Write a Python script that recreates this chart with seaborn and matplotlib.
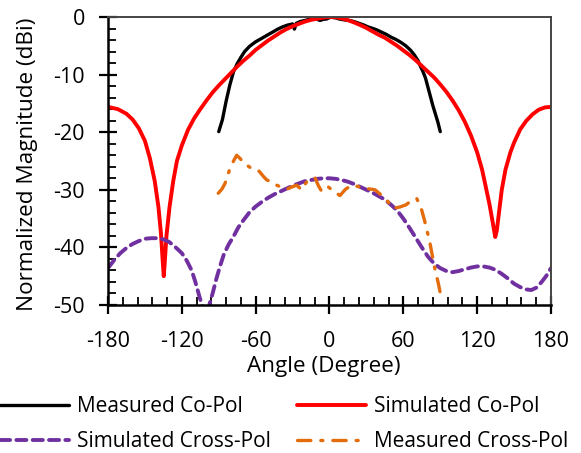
import matplotlib
matplotlib.use("Agg")
import matplotlib.pyplot as plt
import seaborn as sns
import pandas as pd
from matplotlib.ticker import MultipleLocator

# ---------------- data ----------------
sim_co_angle = [-180, -172, -165, -160, -155, -150, -146, -142, -139, -137, -135.5, -134.7,
                -134, -132.5, -130, -127, -124, -120, -115, -110, -105, -100, -95, -90,
                -85, -80, -75, -70, -65, -60, -55, -50, -45, -40, -35, -30, -25, -20,
                -15, -10, -5, 0, 5, 10, 15, 20, 25, 30, 35, 40, 45, 50, 55, 60, 65, 70,
                75, 80, 85, 90, 95, 100, 105, 110, 115, 120, 124, 127, 130, 132.5, 134.7,
                136, 138, 140, 143, 147, 150, 155, 160, 165, 170, 175, 180]
sim_co_db = [-15.6, -16.0, -16.8, -17.8, -19.3, -21.5, -24.5, -28.5, -33.0, -37.5, -42.5, -45.0,
             -43.0, -38.0, -33.0, -28.5, -25.0, -22.3, -19.6, -17.6, -16.0, -14.5, -13.1, -11.9,
             -10.8, -9.7, -8.6, -7.6, -6.7, -5.7, -4.9, -4.1, -3.4, -2.7, -2.1, -1.6, -1.2, -0.8,
             -0.5, -0.3, -0.1, 0.0, -0.05, -0.25, -0.55, -0.95, -1.4, -1.9, -2.5, -3.1, -3.6, -4.3,
             -5.0, -5.8, -6.6, -7.5, -8.5, -9.5, -10.5, -11.7, -13.0, -14.5, -16.2, -18.2, -20.6,
             -23.5, -26.5, -29.5, -32.5, -35.5, -38.2, -37.0, -33.5, -30.0, -26.5, -23.5, -21.8,
             -19.5, -18.0, -16.9, -16.1, -15.7, -15.6]

meas_co_angle = [-90, -87, -84, -81, -78, -75, -72, -69, -65, -60, -55, -51, -46, -42, -38, -34,
                 -30, -28.5, -27, -24, -20, -16, -13, -10, -7.7, -5, -2.3, 0, 2, 5, 8, 12, 16,
                 20, 24, 28, 31, 34, 38, 42, 46, 50, 54, 58, 62, 66, 69, 72, 74, 76, 78, 80, 82,
                 84, 86, 88, 90]
meas_co_db = [-19.9, -17.8, -14.6, -11.8, -9.5, -8.1, -7.0, -6.0, -5.1, -4.3, -3.7, -3.2, -2.6,
              -2.1, -1.7, -1.4, -1.2, -2.1, -1.1, -0.8, -0.6, -0.4, -0.3, -0.4, -0.6, -0.4, -0.35,
              -0.1, -0.05, -0.15, -0.35, -0.5, -0.6, -0.8, -1.1, -1.4, -1.7, -1.9, -2.2, -2.6,
              -3.0, -3.5, -3.9, -4.4, -5.0, -5.8, -6.6, -7.6, -8.6, -9.5, -10.6, -12.2, -13.8,
              -15.4, -16.8, -18.2, -19.9]

sim_x_angle = [-180, -175, -170, -165, -160, -155, -150, -145, -140, -135, -130, -125, -120,
               -116, -112, -109, -106, -103, -101, -99, -97, -95, -92, -89, -86, -82, -78, -74,
               -70, -65, -60, -55, -50, -45, -40, -35, -30, -25, -20, -15, -10, -5, 0, 5, 10,
               15, 20, 25, 30, 35, 40, 45, 50, 55, 60, 65, 70, 75, 80, 85, 90, 95, 100, 105,
               110, 115, 120, 125, 130, 135, 140, 145, 150, 155, 160, 164, 168, 172, 176, 180]
sim_x_db = [-43.6, -42.2, -41.0, -40.1, -39.4, -38.9, -38.5, -38.4, -38.4, -38.6, -39.1, -40.0,
            -41.0, -42.3, -44.0, -46.0, -48.3, -50.5, -52.0, -51.0, -49.5, -48.0, -45.5, -43.3,
            -41.3, -39.5, -38.1, -36.5, -35.3, -33.9, -32.9, -32.1, -31.4, -30.8, -30.3, -29.8,
            -29.3, -28.9, -28.5, -28.3, -28.1, -28.0, -28.0, -28.1, -28.3, -28.6, -29.0, -29.5,
            -30.0, -30.5, -31.1, -31.7, -32.6, -33.6, -35.0, -36.6, -38.3, -40.0, -41.6, -42.8,
            -43.6, -44.1, -44.3, -44.1, -43.8, -43.5, -43.3, -43.3, -43.5, -43.9, -44.6, -45.4,
            -46.3, -46.9, -47.3, -47.4, -47.0, -46.1, -45.0, -43.6]

meas_x_angle = [-90.4, -87.5, -84.9, -80.9, -78, -75.4, -72.5, -70.0, -64, -57.9, -54, -51.0,
                -47, -42.9, -38.5, -34.8, -30.5, -26.7, -22.6, -18.5, -15, -11.8, -9, -6.3,
                -3.5, -1.0, 3, 8.5, 13, 18, 24.8, 31, 37, 42, 46.5, 51.8, 57, 62.2, 67, 70.9,
                74.9, 78.2, 81.7, 85.2, 88.4, 89.8]
meas_x_db = [-30.6, -29.9, -28.9, -26.3, -25.0, -24.0, -24.6, -25.3, -26.2, -26.6, -27.6, -28.3,
             -28.6, -29.2, -29.6, -29.9, -29.5, -29.2, -30.0, -28.6, -28.2, -27.9, -29.3, -30.3,
             -29.9, -29.5, -30.2, -31.0, -29.9, -29.2, -29.5, -29.8, -30.0, -30.9, -31.8, -33.2,
             -33.0, -32.6, -31.8, -31.5, -33.5, -36.1, -39.3, -43.3, -46.2, -47.7]

x_ticks = [-180, -120, -60, 0, 60, 120, 180]
y_ticks = [0, -10, -20, -30, -40, -50]

# ---------------- style ----------------
sns.set_theme(style="white")
plt.rcParams["font.family"] = ["Open Sans", "DejaVu Sans"]
TICK_FS = 15.5
LABEL_FS = 16.2
LEG_FS = 15

fig = plt.figure(figsize=(5.81, 4.53), dpi=100)
ax = fig.add_axes([108 / 581, 1 - 305 / 453, 443 / 581, 288 / 453])

series = [
    ("Measured Co-Pol", meas_co_angle, meas_co_db, "#000000", "-", 2.4),
    ("Simulated Co-Pol", sim_co_angle, sim_co_db, "#FF0000", "-", 2.8),
    ("Simulated Cross-Pol", sim_x_angle, sim_x_db, "#7030A0", (0, (2.6, 1.6)), 2.8),
    ("Measured Cross-Pol", meas_x_angle, meas_x_db, "#E46C0A", (0, (4, 3, 0.6, 3)), 2.4),
]
for name, xs, ys, col, ls, lw in series:
    df = pd.DataFrame({"Angle": xs, "Mag": ys})
    sns.lineplot(data=df, x="Angle", y="Mag", ax=ax, color=col, linewidth=lw,
                 linestyle=ls, label=name, estimator=None, sort=False,
                 solid_capstyle="round", dash_capstyle="round")

ax.set_xlim(-180, 180)
ax.set_ylim(-50, 0)
ax.set_xticks(x_ticks)
ax.set_xticklabels([str(t) for t in x_ticks])
ax.set_yticks(y_ticks)
ax.set_yticklabels([str(t) for t in y_ticks])
ax.xaxis.set_minor_locator(MultipleLocator(12))
ax.yaxis.set_minor_locator(MultipleLocator(2))

ax.tick_params(axis="both", which="major", direction="inout", length=13, width=1.6,
               color="black", labelsize=TICK_FS, labelcolor="black", bottom=True, left=True)
ax.tick_params(axis="x", which="major", pad=12)
ax.tick_params(axis="y", which="major", pad=10)
ax.tick_params(axis="both", which="minor", direction="in", length=6, width=1.3,
               color="black", bottom=True, left=True)

for side in ["left", "bottom"]:
    ax.spines[side].set_color("black")
    ax.spines[side].set_linewidth(1.8)
for side in ["top", "right"]:
    ax.spines[side].set_color("#444444")
    ax.spines[side].set_linewidth(1.4)

ax.set_xlabel("Angle (Degree)", fontsize=LABEL_FS, color="black")
ax.set_ylabel("Normalized Magnitude (dBi)", fontsize=LABEL_FS, color="black")
ax.xaxis.set_label_coords(0.487, -0.178)
ax.yaxis.set_label_coords(-0.158, 0.49)

ax.legend_.remove()
handles, labels = ax.get_legend_handles_labels()
order = [0, 2, 1, 3]
fig.legend([handles[i] for i in order], [labels[i] for i in order],
           loc="upper left", bbox_to_anchor=(0.0, 1 - 396 / 453), ncol=2, frameon=False,
           fontsize=LEG_FS, handlelength=3.3, handletextpad=0.4, columnspacing=1.27,
           borderpad=0, borderaxespad=0, labelspacing=0.68, labelcolor="black")

fig.savefig("out.png", dpi=100)
